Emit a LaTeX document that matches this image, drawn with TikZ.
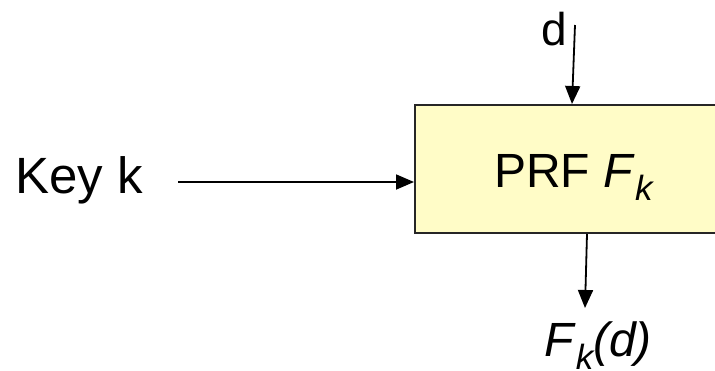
\documentclass[tikz,border=0pt]{standalone}
\usepackage{fontspec}
\setmainfont{Liberation Sans}
\usetikzlibrary{arrows.meta}
\newcommand{\subk}{\raisebox{-13pt}{\fontsize{35}{35}\selectfont\itshape k}}
\tikzset{
  lbl/.style={inner sep=0pt, font=\fontsize{48}{54}\selectfont},
  arr/.style={line width=1.8pt, -{Triangle[length=18pt,width=15pt]}},
  prfbox/.style={draw=black!85, line width=2pt, fill=yellow!22, minimum width=318pt, minimum height=128pt, inner sep=0pt}
}
\begin{document}
\begin{tikzpicture}[x=1pt,y=-1pt]
\useasboundingbox (0,0) rectangle (715,370);
\clip (0,0) rectangle (715,370);
\node[prfbox] (prf) at (574,169) {};
\node[lbl, anchor=base west] (prft) at (494,187) {PRF \textit{F}\subk};
\node[lbl, anchor=base west, font=\fontsize{51}{56}\selectfont] (key) at (15,193) {Key k};
\node[lbl, anchor=base west, font=\fontsize{46}{52}\selectfont] (d) at (541,45) {d};
\node[lbl, anchor=base west, font=\fontsize{48}{54}\selectfont] (out) at (544,356) {\textit{F}\subk\textit{(d)}};
\coordinate (ks) at (178,182);
\coordinate (dt) at (575,25);
\coordinate (dh) at (572,105);
\coordinate (ot) at (587,233);
\coordinate (oh) at (585,308);
\draw[arr] (ks) -- (ks -| prf.west);
\draw[arr] (dt) -- (dh |- prf.north);
\draw[arr] (ot |- prf.south) -- (oh);
\end{tikzpicture}
\end{document}
